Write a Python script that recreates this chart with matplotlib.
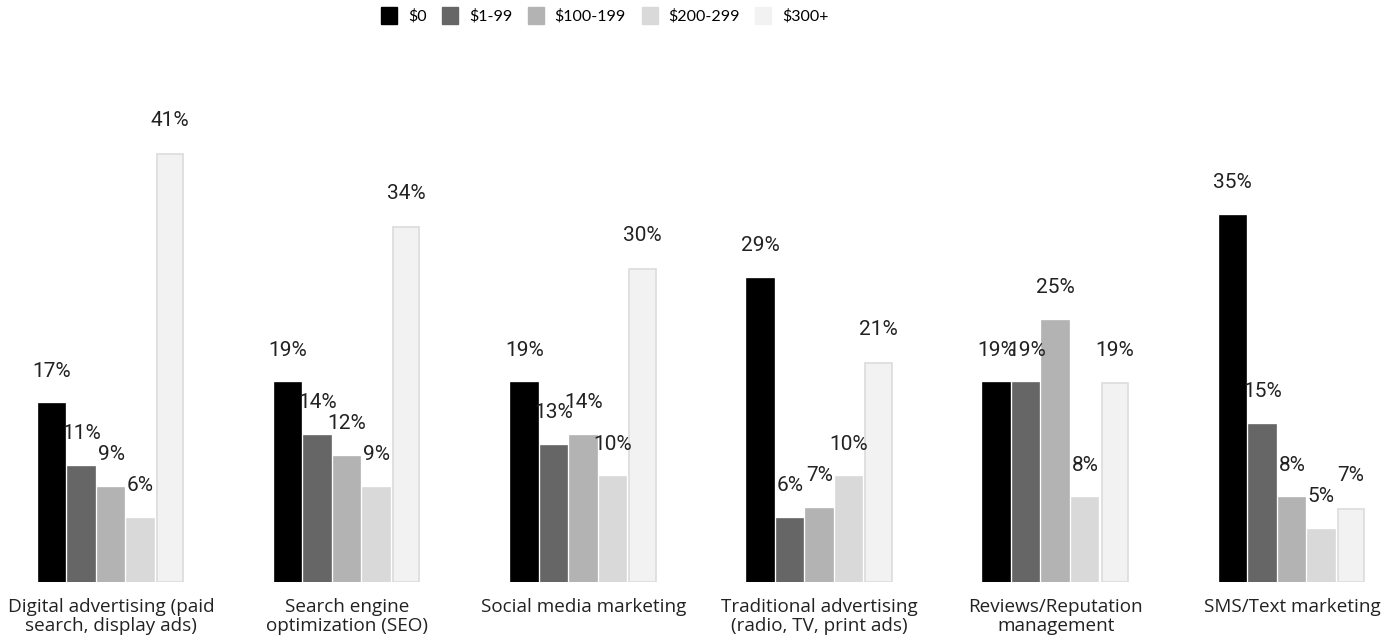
import numpy as np
import matplotlib.pyplot as plt
from matplotlib.patches import Patch

categories = [
    "Digital advertising (paid\nsearch, display ads)",
    "Search engine\noptimization (SEO)",
    "Social media marketing",
    "Traditional advertising\n(radio, TV, print ads)",
    "Reviews/Reputation\nmanagement",
    "SMS/Text marketing",
]
series = ["$0", "$1-99", "$100-199", "$200-299", "$300+"]
spend_0 = [17, 19, 19, 29, 19, 35]
spend_1_99 = [11, 14, 13, 6, 19, 15]
spend_100_199 = [9, 12, 14, 7, 25, 8]
spend_200_299 = [6, 9, 10, 10, 8, 5]
spend_300_plus = [41, 34, 30, 21, 19, 7]
values = [spend_0, spend_1_99, spend_100_199, spend_200_299, spend_300_plus]

colors = ["#000000", "#666666", "#b3b3b3", "#d9d9d9", "#f2f2f2"]
edges = ["#000000", "#666666", "#b3b3b3", "#d9d9d9", "#dcdcdc"]

fig = plt.figure(figsize=(13.84, 6.38), dpi=100)
ax = fig.add_axes([0, 0.0878, 1, 0.9122])

x = np.arange(len(categories))
step = 0.125
width = 0.112
for i, (vals, c, ec) in enumerate(zip(values, colors, edges)):
    pos = x + (i - 2) * step
    bars = ax.bar(pos, vals, width, color=c, edgecolor=ec, linewidth=1.2, label=series[i])
    for b, v in zip(bars, vals):
        ax.annotate(f"{v}%", (b.get_x() + b.get_width() / 2, v),
                    xytext=(0, 24), textcoords="offset points",
                    ha="center", va="center", fontsize=15,
                    family="Roboto", color="#222222")

ax.set_xlim(-0.47, 5.39)
ax.set_ylim(0, 55.7)
ax.axis("off")

for xi, cat in zip(x, categories):
    ax.text(xi, -1.5, cat, ha="center", va="top", fontsize=13.6,
            family="Open Sans", color="#222222", linespacing=1.1)

handles = [Patch(facecolor=c, edgecolor=c) for c in colors]
fig.legend(handles, series, loc="upper center", bbox_to_anchor=(0.437, 1.012),
           ncol=5, frameon=False, handlelength=1.0, handleheight=1.25,
           columnspacing=1.0, handletextpad=0.65,
           prop={"family": "Lato", "size": 11.5})

fig.savefig("out.png", dpi=100)
